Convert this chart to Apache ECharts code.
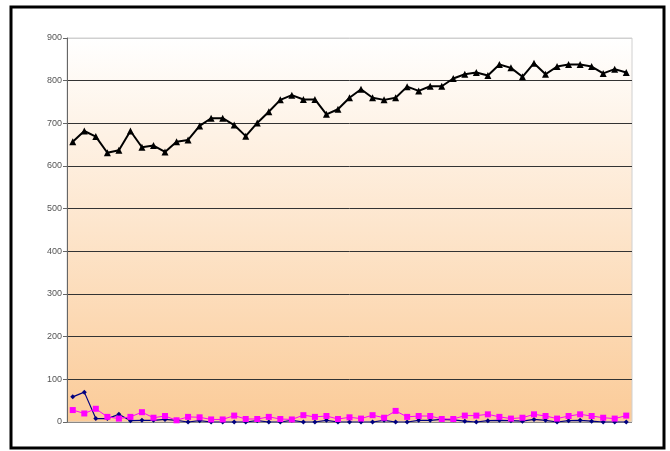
<!DOCTYPE html>
<html><head><meta charset="utf-8">
<script src="https://cdn.jsdelivr.net/npm/echarts@6/dist/echarts.min.js"></script>
<style>html,body{margin:0;padding:0;background:#fff}#c{width:670px;height:451px}</style>
</head><body><div id="c"></div>
<script>
const categories = Array.from({length:49}, (_, i) => String(i + 1));
const seriesBlack = [657,682,669,631,637,682,644,648,633,657,661,694,712,712,696,670,
  701,727,755,766,756,756,721,733,760,780,760,755,760,786,776,787,787,805,
  815,819,812,838,830,809,841,815,833,838,838,833,817,827,819];
const seriesNavy = [59,70,8,8,18,3,4,4,6,4,0,3,0,0,0,0,
  3,0,0,4,0,0,4,0,0,0,0,4,0,0,4,4,6,5,
  2,0,3,4,3,2,6,4,0,3,4,2,0,0,0];
const seriesMagenta = [28,20,31,12,8,12,23,10,14,4,12,11,6,6,15,7,
  7,12,7,6,16,12,14,7,11,8,16,10,26,12,14,14,7,7,
  15,15,18,12,8,10,18,14,8,14,18,14,10,8,15];
const yTicks = [0,100,200,300,400,500,600,700,800,900];

const chart = echarts.init(document.getElementById('c'), null, {renderer:'canvas'});
chart.setOption({
  animation:false,
  backgroundColor:'#ffffff',
  graphic:[{type:'rect', shape:{x:11,y:7,width:653,height:441}, style:{fill:'none', stroke:'#000', lineWidth:3}, z:100}],
  grid:{left:67, right:38, top:38, bottom:29, show:true, borderColor:'#d0d0d0', borderWidth:1,
    backgroundColor:{type:'linear', x:0, y:0, x2:0, y2:1, colorStops:[{offset:0,color:'#ffffff'},{offset:1,color:'#fbcb98'}]}},
  xAxis:{type:'category', data:categories, boundaryGap:true,
    axisLine:{show:false}, axisTick:{show:false}, axisLabel:{show:false}, splitLine:{show:false}},
  yAxis:{type:'value', min:yTicks[0], max:yTicks[yTicks.length-1], interval:100,
    axisLine:{show:true, lineStyle:{color:'#666', width:1}},
    axisTick:{show:true, length:4, lineStyle:{color:'#666'}},
    axisLabel:{color:'#555', fontSize:9, fontFamily:'Liberation Sans, Arial, sans-serif', margin:5},
    splitLine:{show:true, lineStyle:{width:1, color:['#888','#333','#333','#333','#333','#333','#333','#333','#333','#d0d0d0']}}},
  series:[
    {type:'line', data:seriesNavy, symbol:'diamond', symbolSize:5, showAllSymbol:true,
      lineStyle:{color:'#000080', width:1.2}, itemStyle:{color:'#000080'}, z:2},
    {type:'line', data:seriesMagenta, symbol:'rect', symbolSize:6, showAllSymbol:true,
      lineStyle:{color:'#ff00ff', width:1}, itemStyle:{color:'#ff00ff'}, z:3},
    {type:'line', data:seriesBlack, symbol:'triangle', symbolSize:7, showAllSymbol:true,
      lineStyle:{color:'#000000', width:2}, itemStyle:{color:'#000000'}, z:4}
  ]
});
</script></body></html>
